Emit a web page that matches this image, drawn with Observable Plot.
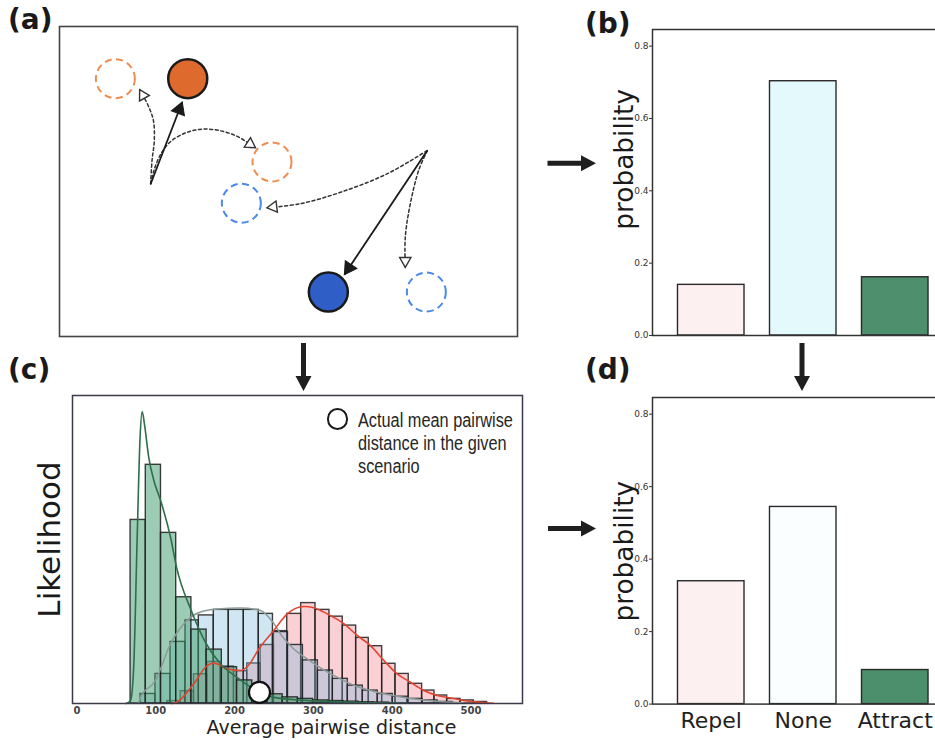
<!DOCTYPE html>
<html><head><meta charset="utf-8">
<script src="https://cdn.jsdelivr.net/npm/d3@7"></script>
<script src="https://cdn.jsdelivr.net/npm/@observablehq/plot@0.6"></script>
<style>
html,body{margin:0;padding:0;background:#fff;overflow:hidden;}
#fig{position:relative;width:935px;height:740px;overflow:hidden;background:#fff;font-family:"DejaVu Sans",sans-serif;color:#222;}
.plabel{position:absolute;font-family:"DejaVu Sans";font-weight:bold;font-size:28px;line-height:28px;color:#1a1a1a;white-space:nowrap;}
.legend-text{position:absolute;font-family:"Liberation Sans",Arial,sans-serif;font-size:20px;line-height:22.8px;color:#262626;white-space:nowrap;transform:scaleX(0.815);transform-origin:0 0;}
.legend-dot{position:absolute;box-sizing:border-box;border:2.2px solid #1a1a1a;border-radius:50%;background:#fff;}
</style></head>
<body><div id="fig"></div>
<script>
// ================= DATA =================
// (a) schematic scene (scene units, y up)
const circleX = [28.0, 12.2, 46.4, 58.7, 39.7, 80.1];
const circleY = [56.3, 56.3, 38.1, 9.7, 29.1, 9.7];
const circleColor = ["#de6b2d", "#f08c50", "#f08c50", "#2f5ec6", "#4a8ae8", "#4a8ae8"];
const circleObserved = [true, false, false, true, false, false];
const moveFromX = [19.9, 80.3];
const moveFromY = [33.3, 40.6];
const moveToX = [26.8, 62.2];
const moveToY = [51.2, 13.5];
const altPath1 = [[19.9,33.3],[20.2,38.4],[20.7,42.8],[20.5,47.2],[19.5,50.1],[18.4,52.3],[17.5,53.9]];
const altPath2 = [[19.9,33.3],[20.6,36.2],[22.1,39.8],[24.3,42.6],[27.9,44.6],[31.5,45.3],[35.2,44.9],[38.8,43.7],[41.3,42.2],[42.8,41.2]];
const altPath3 = [[80.3,40.6],[71.5,35.5],[61.4,31.5],[52.6,29.0],[45.3,28.1]];
const altPath4 = [[80.3,40.6],[78.4,36.2],[76.6,29.0],[75.5,21.7],[75.5,15.1]];

// (b) and (d)
const hypotheses = ["Repel", "None", "Attract"];
const priorProb = [0.140, 0.703, 0.161];
const posteriorProb = [0.339, 0.544, 0.094];
const probTicks = [0, 0.2, 0.4, 0.6, 0.8];
const colorsB = ["#fcf0f1", "#e3f9fc", "#4e8f6d"];
const colorsD = ["#fdf0f1", "#fafeff", "#4b8f6c"];

// (c) histograms of average pairwise distance
const distTicks = [0, 100, 200, 300, 400, 500];
const repelEdges = [114.7,131.6,148.5,165.4,182.3,199.2,216.1,233.0,249.9,266.8,284.5,302.7,320.4,337.3,354.3,370.3,387.3,404.2,421.0,438.0,453.7,469.8,486.7,503.6,520.5];
const repelHeights = [0.008,0.040,0.095,0.135,0.120,0.105,0.130,0.190,0.235,0.291,0.326,0.304,0.282,0.253,0.213,0.186,0.129,0.096,0.064,0.042,0.026,0.015,0.010,0.005];
const noneEdges = [80.6,99.6,118.7,137.7,154.6,173.6,192.6,211.7,230.7,248.7,267.7,286.7,305.7,324.7,343.7,362.7,381.7,400.7,419.7,438.7,457.7,476.7];
const noneHeights = [0.031,0.096,0.200,0.270,0.286,0.304,0.304,0.304,0.291,0.232,0.190,0.140,0.107,0.080,0.058,0.042,0.031,0.022,0.015,0.010,0.005];
const attractEdges = [68,87.3,106.6,125.9,145.2,164.5,183.8,203.1,222.4,241.7,261,280.3,299.6,318.9,338.2,357.5,376.8,396.1];
const attractHeights = [0.596,0.775,0.554,0.345,0.240,0.175,0.118,0.075,0.048,0.030,0.020,0.015,0.010,0.008,0.006,0.004,0.003];
const attractKdeX = [62,68,72,76.4,80,82.7,86,91,98,106,118.7,126.3,145,164,182,203,224,250,290,350,420];
const attractKdeY = [0,0.01,0.12,0.54,0.86,0.948,0.9,0.8,0.72,0.66,0.54,0.443,0.302,0.194,0.129,0.085,0.048,0.02,0.01,0.004,0.001];
const noneKdeX = [78,80.6,99.6,118.7,139.8,156.7,177.9,207.5,232.9,249.7,260,275.1,292.1,313.2,334.4,355.6,385.2,419,452.8,490.5];
const noneKdeY = [0,0.02,0.075,0.194,0.27,0.297,0.307,0.31,0.302,0.26,0.22,0.177,0.145,0.109,0.08,0.055,0.034,0.018,0.008,0.002];
const repelKdeX = [120,127.2,148.2,165.2,173.6,190.6,207.5,218,230.7,249.7,266.8,287.8,300.5,317.5,338.6,355.6,372.5,389.3,406.3,423.2,440.1,457.1,474,490.9,512,528.6];
const repelKdeY = [0,0.005,0.064,0.123,0.131,0.113,0.107,0.125,0.177,0.237,0.291,0.315,0.311,0.291,0.259,0.221,0.188,0.14,0.096,0.069,0.042,0.026,0.018,0.01,0.004,0.001];
const actualDistance = 231.6;
const actualMarkerY = 0.036;

// ================= LAYOUT =================
const fig = document.getElementById("fig");
function place(el, left, top) {
  el.style.position = "absolute"; el.style.left = left + "px"; el.style.top = top + "px";
  fig.appendChild(el); return el;
}
const baseStyle = {fontFamily: "DejaVu Sans", background: "transparent", overflow: "visible", color: "#333"};

// ---------- panel (a)
const sceneUnit = 4.58;
function head(x0, y0, x1, y1, r) {
  const dx = x1 - x0, dy = y1 - y0, L = Math.hypot(dx, dy);
  const back = 1.555 * r / sceneUnit;
  return {x: x1 - dx / L * back, y: y1 - dy / L * back, angle: Math.atan2(dx, dy) * 180 / Math.PI};
}
const altPaths = [altPath1, altPath2, altPath3, altPath4];
const dottedRows = altPaths.flatMap((p, k) => p.map(([x, y]) => ({x, y, k})));
const openHeads = altPaths.map(p => { const a = p[p.length - 2], b = p[p.length - 1]; return head(a[0], a[1], b[0], b[1], 4.2); });
const solidRows = moveFromX.map((x, i) => ({x1: x, y1: moveFromY[i], x2: moveToX[i], y2: moveToY[i]}));
const solidHeads = solidRows.map(d => head(d.x1, d.y1, d.x2, d.y2, 5.2));
const circles = circleX.map((x, i) => ({x, y: circleY[i], color: circleColor[i], observed: circleObserved[i]}));

const plotA = Plot.plot({
  width: 462, height: 314, margin: 2,
  style: baseStyle,
  x: {domain: [0, 458 / sceneUnit], axis: null},
  y: {domain: [0, 310 / sceneUnit], axis: null},
  marks: [
    Plot.frame({stroke: "#444", strokeWidth: 1.6}),
    Plot.line(dottedRows, {x: "x", y: "y", z: "k", curve: "catmull-rom", stroke: "#333", strokeWidth: 1.5, strokeDasharray: "3,2.6"}),
    Plot.link(solidRows, {x1: "x1", y1: "y1", x2: "x2", y2: "y2", stroke: "#1a1a1a", strokeWidth: 1.8}),
    Plot.dot(openHeads, {x: "x", y: "y", rotate: "angle", symbol: "triangle", r: 4.2, fill: "white", stroke: "#333", strokeWidth: 1.4}),
    Plot.dot(solidHeads, {x: "x", y: "y", rotate: "angle", symbol: "triangle", r: 5.2, fill: "#1a1a1a", stroke: "#1a1a1a", strokeWidth: 1}),
    Plot.dot(circles.filter(d => !d.observed), {x: "x", y: "y", r: 19.5, fill: "none", stroke: "color", strokeWidth: 2, strokeDasharray: "7,4.5"}),
    Plot.dot(circles.filter(d => d.observed), {x: "x", y: "y", r: 19.5, fill: "color", stroke: "#1a1a1a", strokeWidth: 2.5})
  ]
});
place(plotA, 57, 24);

// ---------- panels (b) and (d)
function probPanel(values, colors, labelValue, showCats, marginBottom, innerH) {
  const rows = hypotheses.map((h, i) => ({h, p: values[i], c: colors[i]}));
  return Plot.plot({
    width: 50 + 301.5 + 2, height: 2 + innerH + marginBottom,
    marginLeft: 50, marginRight: 2, marginTop: 2, marginBottom,
    style: {...baseStyle, fontSize: "9px"},
    x: {domain: hypotheses, padding: 0.277, round: false, axis: null},
    y: {domain: [0, 0.846], ticks: probTicks, tickFormat: ".1f", tickSize: 3, tickPadding: 1, label: null},
    marks: [
      Plot.barY(rows, {x: "h", y: "p", fill: "c", stroke: "#2a2a2a", strokeWidth: 1.4}),
      Plot.frame({stroke: "#333", strokeWidth: 1.5}),
      Plot.text([{t: "probability", p: labelValue}], {y: "p", text: "t", frameAnchor: "left", textAnchor: "middle", lineAnchor: "middle", dx: -28, rotate: -90, fontSize: 26.4, fill: "#1a1a1a"}),
      showCats ? Plot.text(hypotheses, {x: d => d, frameAnchor: "bottom", lineAnchor: "middle", dy: 16.7, fontSize: 22, fill: "#222"}) : null
    ]
  });
}
place(probPanel(priorProb, colorsB, 0.487, false, 8, 306), 602.3, 27);
place(probPanel(posteriorProb, colorsD, 0.422, true, 36, 306.6), 602.3, 394.7);

// ---------- panel (c)
const toBins = (edges, heights) => heights.map((h, i) => ({x1: edges[i], x2: edges[i + 1], y: h}));
const toCurve = (xs, ys) => xs.map((x, i) => ({x, y: ys[i]}));
const barStyle = {x1: "x1", x2: "x2", y: "y", stroke: "#1e1e1e", strokeOpacity: 0.85, strokeWidth: 1.4};
const plotC = Plot.plot({
  width: 503, height: 347, marginLeft: 50, marginRight: 3, marginTop: 2, marginBottom: 37,
  style: baseStyle,
  x: {domain: [-5.7, 565.4], axis: null},
  y: {domain: [0, 1], axis: null},
  marks: [
    Plot.rectY(toBins(repelEdges, repelHeights), {...barStyle, fill: "#f06e78", fillOpacity: 0.32}),
    Plot.rectY(toBins(noneEdges, noneHeights), {...barStyle, fill: "#7ab8dc", fillOpacity: 0.35}),
    Plot.rectY(toBins(attractEdges, attractHeights), {...barStyle, fill: "#3a9a68", fillOpacity: 0.5}),
    Plot.line(toCurve(noneKdeX, noneKdeY), {x: "x", y: "y", curve: "monotone-x", stroke: "#8d9a9a", strokeWidth: 1.5}),
    Plot.line(toCurve(repelKdeX, repelKdeY), {x: "x", y: "y", curve: "monotone-x", stroke: "#e2442f", strokeWidth: 1.6}),
    Plot.line(toCurve(attractKdeX, attractKdeY), {x: "x", y: "y", curve: "monotone-x", stroke: "#2d6e4c", strokeWidth: 1.6}),
    Plot.frame({stroke: "#3a3a4a", strokeWidth: 1.5}),
    Plot.dot([{x: actualDistance, y: actualMarkerY}], {x: "x", y: "y", r: 10.5, fill: "white", stroke: "#111", strokeWidth: 2.2}),
    Plot.text(distTicks, {x: d => d, text: d => String(d), frameAnchor: "bottom", lineAnchor: "middle", dy: 7.5, fontSize: 10, fontWeight: "bold", fill: "#444", ariaLabel: "distance-ticks"}),
    Plot.text(["Average pairwise distance"], {frameAnchor: "bottom", lineAnchor: "middle", dx: 34, dy: 24, fontSize: 19, fill: "#222"}),
    Plot.text(["Likelihood"], {frameAnchor: "left", textAnchor: "middle", lineAnchor: "middle", dx: -22, dy: -10, rotate: -90, fontSize: 31, fill: "#1a1a1a"})
  ]
});
d3.select(plotC).selectAll('g[aria-label="distance-ticks"] text').style("letter-spacing", "1.6px");
place(plotC, 22, 393);

// legend of (c)
const ldot = document.createElement("div"); ldot.className = "legend-dot";
ldot.style.width = "21.6px"; ldot.style.height = "21.6px";
place(ldot, 326.5, 408.2);
const ltext = document.createElement("div"); ltext.className = "legend-text";
ltext.innerHTML = "Actual mean pairwise<br>distance in the given<br>scenario";
place(ltext, 358.3, 409.4);

// panel labels
[["(a)", 8, 5.8], ["(b)", 585, 10.3], ["(c)", 8, 356], ["(d)", 585, 356]].forEach(([t, x, y]) => {
  const d = document.createElement("div"); d.className = "plabel"; d.textContent = t; place(d, x, y);
});

// connector arrows between panels
const ns = "http://www.w3.org/2000/svg";
const arrows = document.createElementNS(ns, "svg");
arrows.setAttribute("width", 935); arrows.setAttribute("height", 740);
arrows.style.pointerEvents = "none";
const arrowPaths = [
  "M547.5,160.8 H581 V155.3 L596,163.3 L581,171.3 V165.8 H547.5 Z",
  "M548,526 H581 V520.5 L596,528.5 L581,536.5 V531 H548 Z",
  "M301,343 V376 H295.5 L303.5,391 L311.5,376 H306 V343 Z",
  "M799.5,343 V376 H794 L802,391 L810,376 H804.5 V343 Z"
];
arrowPaths.forEach(dp => { const p = document.createElementNS(ns, "path"); p.setAttribute("d", dp); p.setAttribute("fill", "#1f1f1f"); arrows.appendChild(p); });
place(arrows, 0, 0);
</script>
</body></html>
